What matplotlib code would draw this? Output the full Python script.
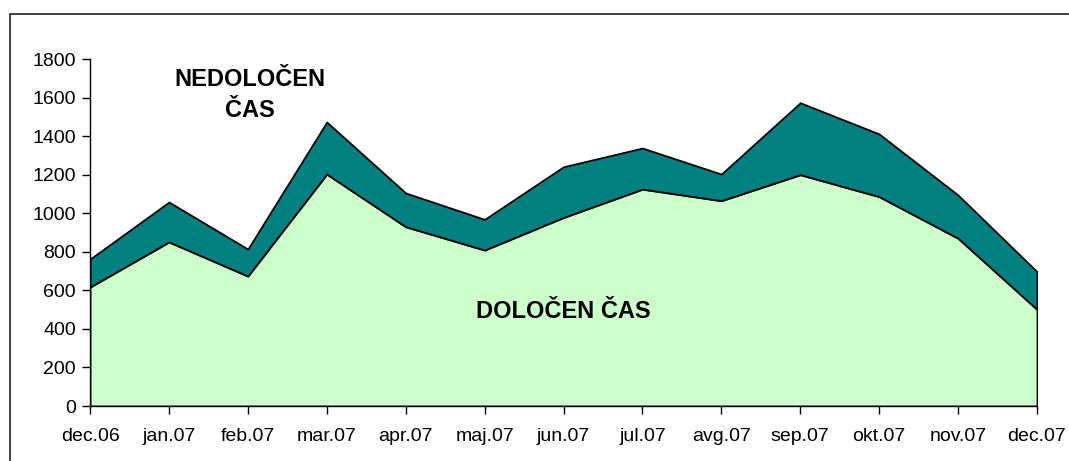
import numpy as np
from matplotlib import pyplot as plt
from matplotlib.patches import Rectangle

plt.rcParams['font.family'] = ['Liberation Sans', 'DejaVu Sans']

meseci = ['dec.06', 'jan.07', 'feb.07', 'mar.07', 'apr.07', 'maj.07', 'jun.07',
          'jul.07', 'avg.07', 'sep.07', 'okt.07', 'nov.07', 'dec.07']

# dolocen cas (spodnja plast) in skupaj (zgornja meja)
dolocen = [617, 851, 674, 1203, 930, 809, 978, 1125, 1065, 1200, 1086, 870, 501]
skupaj = [762, 1058, 814, 1473, 1105, 968, 1241, 1338, 1203, 1573, 1411, 1094, 697]

nedolocen = [s - d for s, d in zip(skupaj, dolocen)]

fig = plt.figure(figsize=(10.69, 4.61), dpi=100)

# okvir okoli grafa
fig.patches.append(Rectangle((10 / 1069, -0.1), 1.2, 1 - 14 / 461 + 0.1,
                             transform=fig.transFigure, fill=False,
                             edgecolor='#333333', linewidth=1.3))

ax = fig.add_axes([90 / 1069, 1 - 406 / 461, (1037 - 90) / 1069, (406 - 59) / 461])

x = np.arange(len(meseci))
ax.stackplot(x, dolocen, nedolocen, colors=['#CCFFCC', '#008080'],
             edgecolor='black', linewidth=1.3)

ax.set_xlim(0, len(meseci) - 1)
ax.set_ylim(0, 1800)
ax.set_yticks(range(0, 1801, 200))
ax.set_xticks(x)
ax.set_xticklabels(meseci)
ax.tick_params(labelsize=14, length=6, width=1, pad=4, color='black')
ax.tick_params(axis='x', pad=10)

for s in ['top', 'right']:
    ax.spines[s].set_visible(False)
ax.spines['left'].set_linewidth(1)
ax.spines['bottom'].set_linewidth(1)

ax.text(2.03, 1613, 'NEDOLOČEN\nČAS', ha='center', va='center',
        fontsize=17, fontweight='bold', linespacing=1.4)
ax.text(6.0, 490, 'DOLOČEN ČAS', ha='center', va='center',
        fontsize=17, fontweight='bold')

plt.savefig('out.png', dpi=100)
